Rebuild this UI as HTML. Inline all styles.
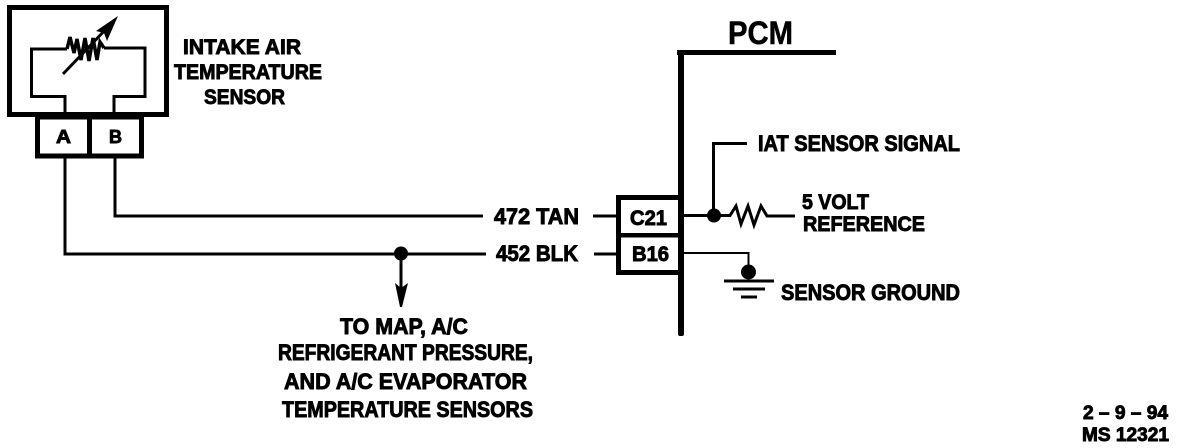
<!DOCTYPE html>
<html>
<head>
<meta charset="utf-8">
<style>
html,body{margin:0;padding:0;background:#fff;width:1184px;height:448px;overflow:hidden}
svg{display:block}
text{font-family:"Liberation Sans",sans-serif;font-weight:bold;fill:#000;stroke:#000;stroke-width:.9px}
.w{fill:none;stroke:#000;stroke-linejoin:miter}
</style>
</head>
<body>
<svg width="1184" height="448" viewBox="0 0 1184 448" xmlns="http://www.w3.org/2000/svg">
<!-- sensor housing -->
<rect class="w" x="9.500" y="7.500" width="157" height="107" stroke-width="5"/>
<path class="w" stroke-width="3" d="M67 49H31.500V96.500H65V113M104 48H145V96.500H114V113"/>
<path class="w" stroke-width="3.500" d="M67 49L70 37L74 53L77 39L81 60L85 38L89 61L93 38L97 60L100 42L104 48"/>
<path class="w" stroke-width="3" d="M63 74L108 27"/>
<path d="M118 16L96 31L104 33L107 41Z" fill="#000"/>
<!-- connector A/B -->
<rect class="w" x="37.500" y="117" width="104" height="39" stroke-width="5"/>
<rect x="87" y="116" width="5" height="40" fill="#000"/>
<text x="56" y="143" font-size="18" textLength="15" lengthAdjust="spacingAndGlyphs">A</text>
<text x="109" y="143" font-size="18" textLength="13" lengthAdjust="spacingAndGlyphs">B</text>
<!-- main wires -->
<path class="w" stroke-width="3" d="M65 158V254H486M115 158V216H483"/>
<circle cx="401" cy="253.500" r="7" fill="#000"/>
<path class="w" stroke-width="3" d="M401 254V290"/>
<path d="M395 283L401 288L408 283L402 307H400Z" fill="#000"/>
<path class="w" stroke-width="3" d="M593 216H616M594 254H616"/>
<!-- PCM -->
<rect x="678" y="50" width="6" height="286" rx="2" fill="#000"/>
<rect x="677" y="50" width="159" height="5" fill="#000"/>
<rect class="w" x="618.500" y="197.500" width="63" height="75" stroke-width="5"/>
<rect x="616" y="233" width="66" height="4.500" fill="#000"/>
<!-- signal -->
<path class="w" stroke-width="3" d="M684 215.500H730L736 206L741 224L748 206L754 225L761 206L767 216H795M713.500 215V143.500H747"/>
<circle cx="714" cy="215.500" r="7" fill="#000"/>
<!-- ground -->
<path class="w" stroke-width="2" d="M684 253H748.500V272"/>
<circle cx="748.500" cy="272" r="7.500" fill="#000"/>
<path class="w" stroke-width="3" d="M724 281H774M733 289H765M741 297H757"/>
<!-- labels -->
<text x="183" y="54" font-size="21" textLength="118" lengthAdjust="spacing">INTAKE AIR</text>
<text x="174" y="79" font-size="21" textLength="148" lengthAdjust="spacingAndGlyphs">TEMPERATURE</text>
<text x="204" y="104" font-size="21" textLength="81" lengthAdjust="spacingAndGlyphs">SENSOR</text>
<text x="728" y="44" font-size="32" textLength="65" lengthAdjust="spacingAndGlyphs" style="stroke-width:.5px">PCM</text>
<text x="758" y="151" font-size="22" textLength="202" lengthAdjust="spacingAndGlyphs">IAT SENSOR SIGNAL</text>
<text x="802" y="209" font-size="21" textLength="67" lengthAdjust="spacingAndGlyphs">5 VOLT</text>
<text x="803" y="231" font-size="21" textLength="122" lengthAdjust="spacingAndGlyphs">REFERENCE</text>
<text x="781" y="300" font-size="22" textLength="179" lengthAdjust="spacingAndGlyphs">SENSOR GROUND</text>
<text x="630" y="225" font-size="21" textLength="37" lengthAdjust="spacingAndGlyphs">C21</text>
<text x="632" y="261" font-size="21" textLength="37" lengthAdjust="spacingAndGlyphs">B16</text>
<text x="494" y="224" font-size="22" textLength="85" lengthAdjust="spacingAndGlyphs">472 TAN</text>
<text x="496" y="261" font-size="22" textLength="82" lengthAdjust="spacingAndGlyphs">452 BLK</text>
<text x="340" y="334" font-size="22" textLength="128" lengthAdjust="spacingAndGlyphs">TO MAP, A/C</text>
<text x="278" y="360" font-size="22" textLength="255" lengthAdjust="spacingAndGlyphs">REFRIGERANT PRESSURE,</text>
<text x="284" y="389" font-size="22" textLength="243" lengthAdjust="spacingAndGlyphs">AND A/C EVAPORATOR</text>
<text x="282" y="417" font-size="22" textLength="251" lengthAdjust="spacingAndGlyphs">TEMPERATURE SENSORS</text>
<text x="1083" y="419" font-size="19" textLength="85" lengthAdjust="spacingAndGlyphs">2 – 9 – 94</text>
<text x="1082" y="441" font-size="19" textLength="87" lengthAdjust="spacingAndGlyphs">MS 12321</text>
</svg>
</body>
</html>
